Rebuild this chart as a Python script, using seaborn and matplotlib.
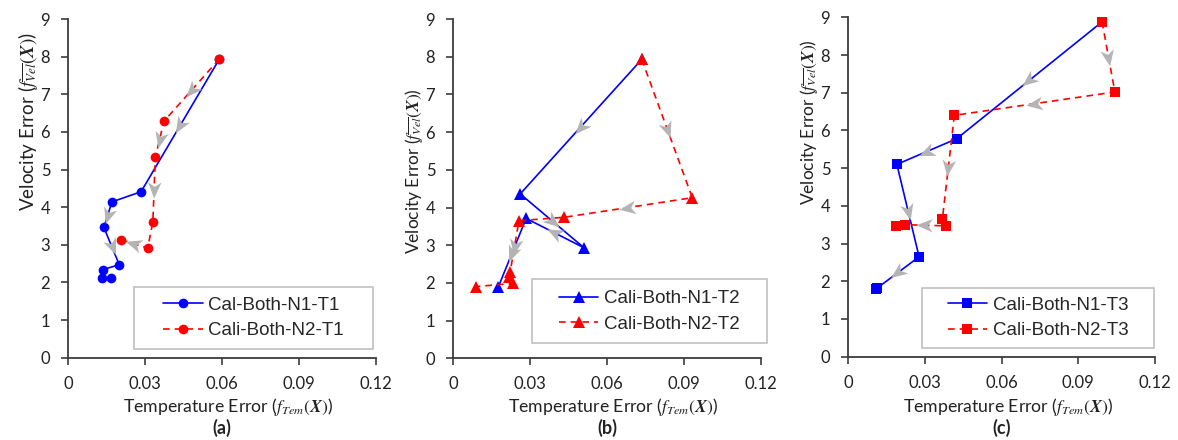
import numpy as np
import seaborn as sns
import matplotlib.pyplot as plt
from matplotlib.markers import MarkerStyle
from matplotlib.path import Path
from matplotlib.patches import Rectangle
from matplotlib.transforms import Affine2D

# panel (a)
a_n1_x = [0.0590, 0.0284, 0.0170, 0.0139, 0.0199, 0.0134, 0.0130, 0.0166]
a_n1_y = [7.94, 4.41, 4.14, 3.46, 2.47, 2.34, 2.13, 2.13]
a_n2_x = [0.0590, 0.0373, 0.0340, 0.0330, 0.0310, 0.0205]
a_n2_y = [7.94, 6.28, 5.33, 3.61, 2.91, 3.14]

# panel (b)
b_n1_x = [0.0735, 0.0261, 0.0510, 0.0284, 0.0176]
b_n1_y = [7.93, 4.36, 2.93, 3.71, 1.90]
b_n2_x = [0.0735, 0.0932, 0.0432, 0.0256, 0.0222, 0.0218, 0.0234, 0.0087]
b_n2_y = [7.93, 4.26, 3.74, 3.65, 2.30, 2.16, 1.99, 1.90]

# panel (c)
c_n1_x = [0.0993, 0.0424, 0.0190, 0.0277, 0.0113, 0.0108]
c_n1_y = [8.88, 5.78, 5.10, 2.65, 1.82, 1.80]
c_n2_x = [0.0993, 0.1043, 0.0415, 0.0368, 0.0381, 0.0223, 0.0185]
c_n2_y = [8.88, 7.02, 6.40, 3.65, 3.47, 3.50, 3.47]

labels_a = ['Cal-Both-N1-T1', 'Cali-Both-N2-T1']
labels_b = ['Cali-Both-N1-T2', 'Cali-Both-N2-T2']
labels_c = ['Cali-Both-N1-T3', 'Cali-Both-N2-T3']
panel_tags = ['(a)', '(b)', '(c)']

# segments that carry a direction arrow
arrows_a = ([0, 2, 3], [0, 1, 2, 4])
arrows_b = ([0, 1, 2, 3], [0, 1, 3])
arrows_c = ([0, 1, 2, 3], [0, 1, 2, 4])

sns.set_theme(style='ticks')
plt.rcParams['font.family'] = ['Lato', 'DejaVu Sans']
plt.rcParams['mathtext.fontset'] = 'stix'

W, H = 1178, 440
fig = plt.figure(figsize=(W / 100, H / 100), dpi=100)

# axes boxes in pixels: left, top, right, bottom
boxes = [(68.3, 19.0, 375.7, 357.7), (453.3, 19.0, 761.0, 358.3), (848.3, 17.3, 1155.0, 356.7)]
# legend boxes in pixels
leg_boxes = [(134.3, 286.7, 372.7, 349.0), (531.7, 279.3, 766.7, 343.3), (921.7, 288.0, 1154.0, 348.0)]
ylabel_pos = [(28, 122), (414, 171), (809, 122)]
ylabel_size = [13.5, 12.5, 12.5]

dart = Path([(1.0, 0.0), (-0.8, 0.75), (-0.3, 0.0), (-0.8, -0.75), (1.0, 0.0)],
            [Path.MOVETO, Path.LINETO, Path.LINETO, Path.LINETO, Path.CLOSEPOLY])

series = [
    (a_n1_x, a_n1_y, a_n2_x, a_n2_y, 'o', 7, labels_a, arrows_a),
    (b_n1_x, b_n1_y, b_n2_x, b_n2_y, '^', 8, labels_b, arrows_b),
    (c_n1_x, c_n1_y, c_n2_x, c_n2_y, 's', 7, labels_c, arrows_c),
]

axis_col = '#3c3c3c'
for i, (x1, y1, x2, y2, mk, ms, labs, arr) in enumerate(series):
    l, t, r, b = boxes[i]
    ax = fig.add_axes([l / W, 1 - b / H, (r - l) / W, (b - t) / H])
    sns.lineplot(x=x1, y=y1, sort=False, estimator=None, color='#0000ff', marker=mk,
                 markersize=ms, markeredgewidth=0, linewidth=1.2, label=labs[0], ax=ax)
    sns.lineplot(x=x2, y=y2, sort=False, estimator=None, color='#ff0000', marker=mk,
                 markersize=ms, markeredgewidth=0, linewidth=1.2, linestyle=(0, (4, 3)),
                 label=labs[1], ax=ax)
    ax.set_xlim(0, 0.12)
    ax.set_ylim(0, 9)
    ax.set_xticks([0, 0.03, 0.06, 0.09, 0.12])
    ax.set_xticklabels(['0', '0.03', '0.06', '0.09', '0.12'])
    ax.set_yticks(range(10))
    sns.despine(ax=ax)
    for s in ['left', 'bottom']:
        ax.spines[s].set_color(axis_col)
        ax.spines[s].set_linewidth(1.3)
    ax.tick_params(axis='both', direction='out', length=5, width=1.2, color=axis_col,
                   labelsize=12, labelcolor='#222222')
    ax.tick_params(axis='x', pad=8)
    ax.tick_params(axis='y', pad=8)

    # direction arrows at segment midpoints
    for xs, ys, segs in ((x1, y1, arr[0]), (x2, y2, arr[1])):
        for k in segs:
            p = ax.transData.transform([[xs[k], ys[k]], [xs[k + 1], ys[k + 1]]])
            ang = np.degrees(np.arctan2(p[1, 1] - p[0, 1], p[1, 0] - p[0, 0]))
            m = MarkerStyle(dart, transform=Affine2D().rotate_deg(ang))
            ax.plot((xs[k] + xs[k + 1]) / 2, (ys[k] + ys[k + 1]) / 2, marker=m, markersize=13,
                    color='#b4b4b4', markeredgewidth=0, linestyle='none', zorder=4)

    ax.set_xlabel(r'Temperature Error ($f_{Tem}(\boldsymbol{X})$)', fontsize=12.7, color='#222222')
    ax.xaxis.label.set_verticalalignment('center')
    ax.xaxis.set_label_coords(0.5 + 6 / (r - l), -(406.7 - b) / (b - t))
    ax.set_ylabel(r'Velocity Error ($f_{\overline{Vel}}(\boldsymbol{X})$)', fontsize=ylabel_size[i],
                  color='#222222')
    ax.yaxis.label.set_verticalalignment('center')
    yx, yy = ylabel_pos[i]
    ax.yaxis.set_label_coords((yx - l) / (r - l), (b - yy) / (b - t))

    # legend
    lx0, ly0, lx1, ly1 = leg_boxes[i]
    fx0, fx1 = (lx0 - l) / (r - l), (lx1 - l) / (r - l)
    fy0, fy1 = (b - ly1) / (b - t), (b - ly0) / (b - t)
    ax.add_patch(Rectangle((fx0, fy0), fx1 - fx0, fy1 - fy0, transform=ax.transAxes,
                           facecolor='white', edgecolor='#c0c0c0', lw=1.2, zorder=5, clip_on=False))
    leg = ax.legend(loc='center', bbox_to_anchor=((fx0 + fx1) / 2, (fy0 + fy1) / 2),
                    frameon=False, prop={'family': 'Liberation Sans', 'size': 13.5},
                    handlelength=2.1, handletextpad=0.3, labelspacing=0.45)
    leg.set_zorder(6)

    fig.text((l + r) / 2 / W, 1 - 428 / H, panel_tags[i], ha='center', va='center',
             fontsize=13, fontweight='bold', color='#222222')

fig.savefig('out.png', dpi=100)
